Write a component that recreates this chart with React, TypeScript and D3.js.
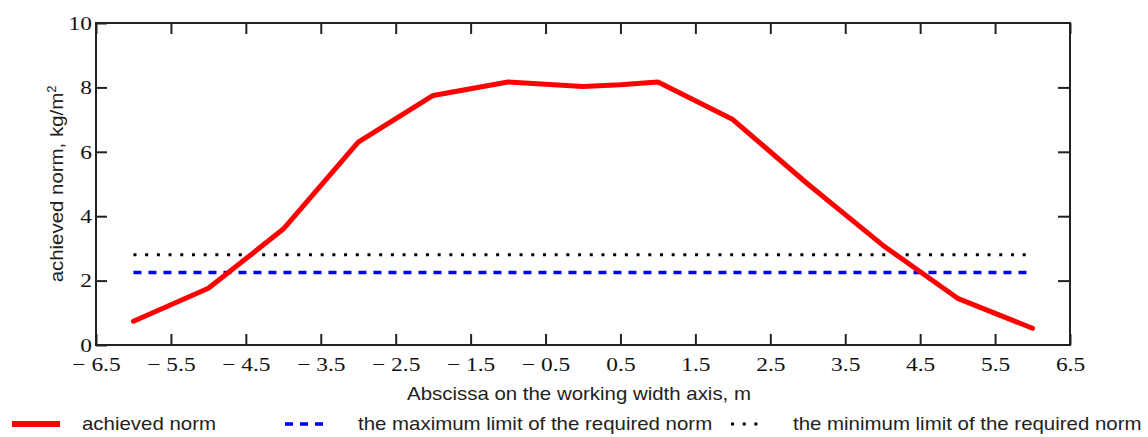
import React, { useRef, useEffect } from "react";
import * as d3 from "d3";

// values
const positions = [-6, -5, -4, -3, -2, -1, -0.5, 0, 0.5, 1, 2, 3, 4, 5, 6];
const achievedNorm = [0.74, 1.76, 3.6, 6.3, 7.75, 8.17, 8.1, 8.03, 8.08, 8.17, 7.0, 5.0, 3.1, 1.45, 0.52];
const limitPositions = [-6, 6];
const maxLimit = [2.25, 2.25];
const minLimit = [2.8, 2.8];
const xTicks = [-6.5, -5.5, -4.5, -3.5, -2.5, -1.5, -0.5, 0.5, 1.5, 2.5, 3.5, 4.5, 5.5, 6.5];
const yTicks = [0, 2, 4, 6, 8, 10];
const legendLabels = [
  "achieved norm",
  "the maximum limit of the required norm",
  "the minimum limit of the required norm",
];

const W = 1148;
const H = 437;
const margin = { top: 23, right: 78, bottom: 92, left: 96 };
const SERIF = "'Liberation Serif', 'Times New Roman', serif";
const SANS = "'Liberation Sans', Arial, sans-serif";
const INK = "#222";

const styles = [
  { stroke: "#ff0000", width: 5, dash: null },
  { stroke: "#0000ff", width: 3.5, dash: "8,7" },
  { stroke: "#000000", width: 3, dash: "3,8.7" },
];

const App = () => {
  const ref = useRef<SVGSVGElement | null>(null);

  useEffect(() => {
    const svg = d3.select(ref.current);
    svg.selectAll("*").remove();

    const x = d3.scaleLinear().domain([-6.5, 6.5]).range([margin.left, W - margin.right]);
    const y = d3.scaleLinear().domain([0, 10]).range([H - margin.bottom, margin.top]);
    const [x0, x1] = x.range();
    const [yb, yt] = y.range();

    const fmt = (d: number) => (d < 0 ? "\u2212 " + Math.abs(d) : String(d));

    // axes (ticks inward)
    svg.append("g").attr("transform", `translate(0,${yb})`)
      .call(d3.axisBottom(x).tickValues(xTicks).tickSize(-11).tickSizeOuter(0).tickPadding(12.5).tickFormat(fmt as any));
    svg.append("g").attr("transform", `translate(0,${yt})`)
      .call(d3.axisTop(x).tickValues(xTicks).tickSize(-11).tickSizeOuter(0).tickFormat(() => ""));
    svg.append("g").attr("transform", `translate(${x0},0)`)
      .call(d3.axisLeft(y).tickValues(yTicks).tickSize(-11).tickSizeOuter(0).tickPadding(4).tickFormat(d3.format("d")));
    svg.append("g").attr("transform", `translate(${x1},0)`)
      .call(d3.axisRight(y).tickValues(yTicks.slice(1, -1)).tickSize(-12).tickSizeOuter(0).tickFormat(() => ""));

    svg.selectAll(".domain").remove();
    svg.selectAll(".tick line").attr("stroke", INK).attr("stroke-width", 2);
    svg.selectAll(".tick text").attr("class", "serif").attr("fill", "#111");
    svg.selectAll("g").attr("font-family", SERIF).attr("font-size", 19.5);

    svg.append("rect")
      .attr("x", x0).attr("y", yt).attr("width", x1 - x0).attr("height", yb - yt)
      .attr("fill", "none").attr("stroke", INK).attr("stroke-width", 2);

    // lines
    const line = d3.line<[number, number]>().x((d) => x(d[0])).y((d) => y(d[1]));
    const series = [
      d3.zip(positions, achievedNorm),
      d3.zip(limitPositions, maxLimit),
      d3.zip(limitPositions, minLimit),
    ];
    // limits first, the red curve on top
    [2, 1, 0].forEach((i) => {
      const s = styles[i];
      svg.append("path")
        .attr("d", line(series[i] as [number, number][]))
        .attr("fill", "none")
        .attr("stroke", s.stroke)
        .attr("stroke-width", s.width)
        .attr("stroke-dasharray", s.dash)
        .attr("stroke-linejoin", "round")
        .attr("stroke-linecap", i === 0 ? "round" : "butt");
    });

    // axis titles
    svg.append("text")
      .attr("class", "sans")
      .attr("x", (x0 + x1) / 2 - 4).attr("y", 400)
      .attr("text-anchor", "middle")
      .text("Abscissa on the working width axis, m");

    const yTitle = svg.append("text")
      .attr("class", "sans")
      .attr("transform", `translate(63,${184}) rotate(-90)`)
      .attr("text-anchor", "middle");
    yTitle.append("tspan").text("achieved norm, kg/m");
    yTitle.append("tspan").attr("font-size", 12).attr("dy", -7).text("2");

    // legend
    const legendLayout = [
      { s0: 12, s1: 60, tx: 82 },
      { s0: 285, s1: 324, tx: 358 },
      { s0: 731, s1: 762, tx: 793 },
    ];
    legendLabels.forEach((label, i) => {
      const l = legendLayout[i];
      const s = styles[i];
      svg.append("line")
        .attr("x1", l.s0).attr("x2", l.s1).attr("y1", 424).attr("y2", 424)
        .attr("stroke", s.stroke)
        .attr("stroke-width", i === 0 ? 6 : s.width)
        .attr("stroke-dasharray", s.dash);
      svg.append("text")
        .attr("class", "sans")
        .attr("x", l.tx).attr("y", 430)
        .text(label);
    });

    svg.selectAll("text.sans").attr("font-family", SANS).attr("font-size", 19).attr("fill", INK);

    // the reference glyphs are drawn a little wide
    const widen = (sel: any, k: number) =>
      sel.each(function (this: SVGTextElement) {
        const w = this.getComputedTextLength();
        d3.select(this).attr("textLength", w * k).attr("lengthAdjust", "spacingAndGlyphs");
      });
    widen(svg.selectAll("text.serif"), 1.2);
    widen(svg.selectAll("text.sans"), 1.075);
  }, []);

  return (
    <svg
      ref={ref}
      width={W}
      height={H}
      style={{ position: "absolute", left: 0, top: 0, background: "#fff" }}
    />
  );
};

export default App;
